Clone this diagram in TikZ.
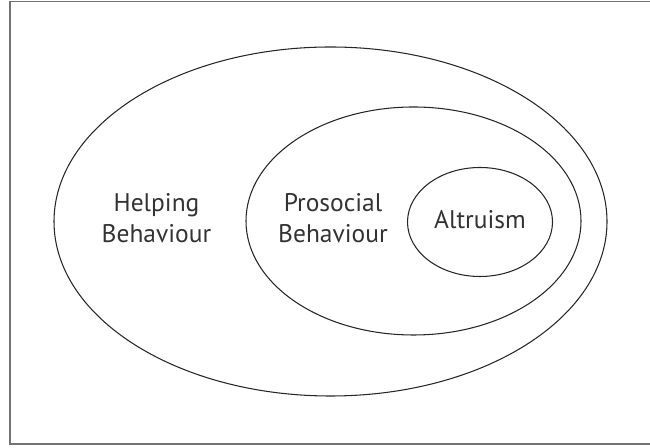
\documentclass[tikz,border=0pt]{standalone}
\usepackage{fontspec}
\setmainfont{PT Sans}
\tikzset{
    ring/.style={draw=black!85, line width=0.6pt},
    label/.style={align=center, text=black!80, font=\fontsize{14.5}{17.5}\selectfont}
}
\begin{document}
\begin{tikzpicture}
        \useasboundingbox (0,0) rectangle (13,8.96);
        \draw[black!55, line width=1pt] (13.2,8.93) -- (0.2,8.93) -- (0.2,0.08) -- (13.2,0.08);
        \draw[ring] (6.61,4.53) ellipse (5.53 and 3.49);
        \draw[ring] (8.27,4.54) ellipse (3.35 and 2.28);
        \draw[ring] (9.6,4.52) ellipse (1.45 and 1.09);
        \node[label] (helping) at (3.13,4.6) {Helping\\Behaviour};
        \node[label] (prosocial) at (6.66,4.6) {Prosocial\\Behaviour};
        \node[label] (altruism) at (9.6,4.56) {Altruism};
    \end{tikzpicture}
\end{document}
